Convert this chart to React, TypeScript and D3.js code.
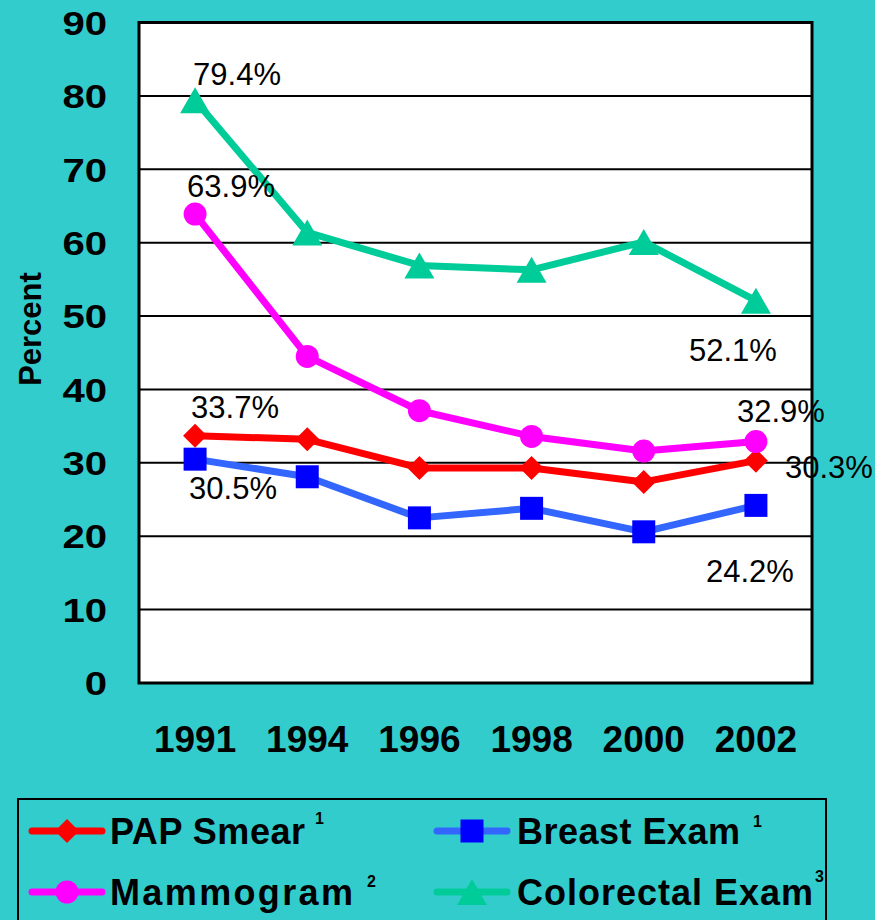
import React from "react";
import * as d3 from "d3";

const years = ["1991", "1994", "1996", "1998", "2000", "2002"];
const papSmear = [33.7, 33.2, 29.3, 29.3, 27.4, 30.3];
const breastExam = [30.5, 28.1, 22.5, 23.8, 20.6, 24.2];
const mammogram = [63.9, 44.5, 37.1, 33.6, 31.6, 32.9];
const colorectal = [79.4, 61.4, 56.9, 56.3, 60.1, 52.1];
const seriesNames = ["PAP Smear", "Breast Exam", "Mammogram", "Colorectal Exam"];
const footnotes = ["1", "1", "2", "3"];

const W = 875;
const H = 920;
const x0 = 139;
const x1 = 812;
const yTop = 22.5;
const yBottom = 683;

const font = "'Liberation Sans', Arial, Helvetica, sans-serif";

// marker path builders, centred on 0,0
const diamond = (r: number) => `M0,${-r}L${r},0L0,${r}L${-r},0Z`;
const square = (s: number) => `M${-s / 2},${-s / 2}h${s}v${s}h${-s}Z`;
const circle = (r: number) =>
  `M${-r},0a${r},${r} 0 1,0 ${2 * r},0a${r},${r} 0 1,0 ${-2 * r},0Z`;
const triangle = (w: number, h: number) =>
  `M0,${-h / 2}L${w / 2},${h / 2}L${-w / 2},${h / 2}Z`;

const series = [
  { name: seriesNames[0], values: papSmear, line: "#FF0000", fill: "#FF0000", shape: diamond(12) },
  { name: seriesNames[1], values: breastExam, line: "#3366FF", fill: "#0000FF", shape: square(23) },
  { name: seriesNames[2], values: mammogram, line: "#FF00FF", fill: "#FF00FF", shape: circle(11.5) },
  { name: seriesNames[3], values: colorectal, line: "#00CC99", fill: "#00CC99", shape: triangle(30, 26) },
];

// which points get a value label, and where the label sits relative to it
const labels = [
  { s: 3, i: 0, dx: 42, dy: -15 },
  { s: 3, i: 5, dx: -23, dy: 60 },
  { s: 2, i: 0, dx: 36, dy: -17 },
  { s: 2, i: 5, dx: 25, dy: -20 },
  { s: 0, i: 0, dx: 40, dy: -18 },
  { s: 0, i: 5, dx: 73, dy: 17 },
  { s: 1, i: 0, dx: 38, dy: 40 },
  { s: 1, i: 5, dx: -6, dy: 77 },
];

// legend slots: PAP, Breast, Mammogram, Colorectal
const legendSlots = [
  { lx: 32, mx: 67, tx: 110, tw: 195, y: 831, base: 844, supX: 315, supY: 824 },
  { lx: 437, mx: 472, tx: 517, tw: 223, y: 831, base: 844, supX: 753, supY: 827 },
  { lx: 32, mx: 67, tx: 110, tw: 243, y: 892, base: 905, supX: 367, supY: 887 },
  { lx: 437, mx: 472, tx: 517, tw: 296, y: 892, base: 905, supX: 815, supY: 882 },
];

export default function App() {
  const x = d3.scalePoint<string>().domain(years).range([x0, x1]).padding(0.5);
  const y = d3.scaleLinear().domain([0, 90]).range([yBottom, yTop]);
  const ticks = y.ticks(9);
  const line = d3
    .line<number>()
    .x((_, i) => x(years[i]) as number)
    .y((d) => y(d));

  return (
    <svg
      width={W}
      height={H}
      style={{ position: "absolute", left: 0, top: 0, display: "block" }}
      fontFamily={font}
    >
      <rect x={0} y={0} width={W} height={H} fill="#33CCCC" />

      {/* plot area */}
      <rect x={x0} y={yTop} width={x1 - x0} height={yBottom - yTop} fill="#FFFFFF" />
      {ticks
        .filter((t) => t > 0 && t < 90)
        .map((t) => (
          <line key={t} x1={x0} x2={x1} y1={y(t)} y2={y(t)} stroke="#000" strokeWidth={2} />
        ))}
      <rect
        x={x0}
        y={yTop}
        width={x1 - x0}
        height={yBottom - yTop}
        fill="none"
        stroke="#000"
        strokeWidth={3}
      />

      {/* y axis */}
      {ticks.map((t) => (
        <text
          key={t}
          transform={`translate(107,${y(t)}) scale(1.18,1)`}
          dy="0.36em"
          textAnchor="end"
          fontSize={34}
          fontWeight="bold"
        >
          {t}
        </text>
      ))}
      <text
        transform="translate(41,329) rotate(-90)"
        textAnchor="middle"
        fontSize={31}
        fontWeight="bold"
      >
        Percent
      </text>

      {/* x axis */}
      {years.map((yr) => (
        <text
          key={yr}
          x={x(yr)}
          y={752}
          textAnchor="middle"
          fontSize={37}
          fontWeight="bold"
        >
          {yr}
        </text>
      ))}

      {/* series */}
      {series.map((s) => (
        <g key={s.name}>
          <path d={line(s.values) || ""} fill="none" stroke={s.line} strokeWidth={7} strokeLinejoin="round" />
          {s.values.map((v, i) => (
            <path
              key={i}
              d={s.shape}
              transform={`translate(${x(years[i])},${y(v)})`}
              fill={s.fill}
            />
          ))}
        </g>
      ))}

      {/* value labels */}
      {labels.map((l, k) => {
        const v = series[l.s].values[l.i];
        return (
          <text
            key={k}
            x={(x(years[l.i]) as number) + l.dx}
            y={y(v) + l.dy}
            textAnchor="middle"
            fontSize={31}
          >
            {v.toFixed(1)}%
          </text>
        );
      })}

      {/* legend */}
      <rect x={18} y={799} width={808} height={140} fill="none" stroke="#000" strokeWidth={2} />
      {series.map((s, k) => {
        const p = legendSlots[k];
        return (
          <g key={s.name}>
            <line
              x1={p.lx}
              x2={p.lx + 70}
              y1={p.y}
              y2={p.y}
              stroke={s.line}
              strokeWidth={7}
              strokeLinecap="round"
            />
            <path d={s.shape} transform={`translate(${p.mx},${p.y})`} fill={s.fill} />
            <text
              x={p.tx}
              y={p.base}
              fontSize={36}
              fontWeight="bold"
              textLength={p.tw}
              lengthAdjust="spacing"
            >
              {s.name}
            </text>
            <text x={p.supX} y={p.supY} fontSize={16} fontWeight="bold">
              {footnotes[k]}
            </text>
          </g>
        );
      })}
    </svg>
  );
}
